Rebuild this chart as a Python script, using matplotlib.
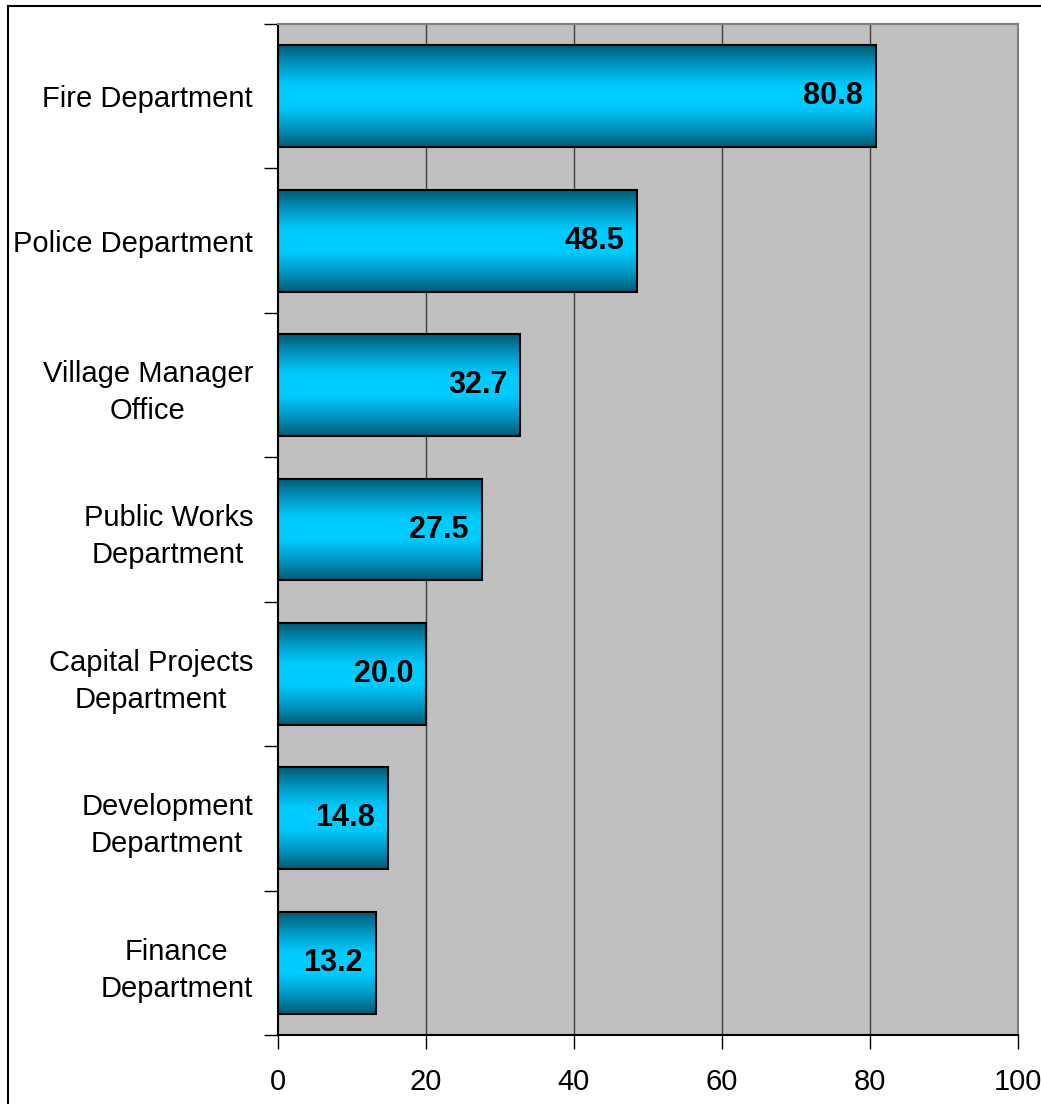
import matplotlib
matplotlib.use("Agg")
import matplotlib.pyplot as plt
import numpy as np
from matplotlib.colors import LinearSegmentedColormap
from matplotlib.lines import Line2D

categories = ["Fire Department", "Police Department", "Village Manager\nOffice",
              "Public Works\nDepartment", "Capital Projects\nDepartment",
              "Development\nDepartment", "Finance\nDepartment"]
values = [80.8, 48.5, 32.7, 27.5, 20.0, 14.8, 13.2]
xticks = [0, 20, 40, 60, 80, 100]

plt.rcParams['font.family'] = ['Liberation Sans', 'DejaVu Sans']

fig = plt.figure(figsize=(10.41, 11.04), dpi=100)
ax = fig.add_axes([278/1041, 69/1104, (1018-278)/1041, (1035-24)/1104])
ax.set_facecolor('#c0c0c0')

n = len(categories)
ypos = np.arange(n)[::-1]
h = 0.705
cmap = LinearSegmentedColormap.from_list('bar', ['#005a74', '#0099c4', '#00ccff', '#00ccff', '#0099c4', '#005a74'])
grad = np.linspace(0, 1, 256).reshape(-1, 1)

ax.set_xlim(0, 100)
ax.set_ylim(-0.5, n - 0.5)
for x in xticks[1:-1]:
    ax.axvline(x, color='#404040', lw=1.0, zorder=1)

bars = ax.barh(ypos, values, height=h, color='none', edgecolor='black', lw=1.5, zorder=3)
for b, v, y in zip(bars, values, ypos):
    im = ax.imshow(grad, cmap=cmap, aspect='auto', extent=[0, v, y - h/2, y + h/2],
                   zorder=2, interpolation='bicubic')
    ax.text(v - 1.7, y, f"{v:.1f}", ha='right', va='center', fontsize=22,
            fontweight='bold', zorder=4)
ax.set_xlim(0, 100)
ax.set_ylim(-0.5, n - 0.5)

ax.set_yticks(ypos)
ax.set_yticklabels(categories, fontsize=21, linespacing=1.4, multialignment='center')
ax.set_yticks(np.arange(-0.5, n, 1), minor=True)
ax.tick_params(axis='y', which='major', length=0, pad=18)
ax.tick_params(axis='y', which='minor', length=10, width=1, color='black')
ax.set_xticks(xticks)
ax.set_xticklabels([str(t) for t in xticks], fontsize=21)
ax.tick_params(axis='x', length=10, width=1, pad=14)

for s in ['top', 'right']:
    ax.spines[s].set_color('#808080')
    ax.spines[s].set_linewidth(1.5)
for s in ['left', 'bottom']:
    ax.spines[s].set_color('black')
    ax.spines[s].set_linewidth(1.5)

fig.add_artist(Line2D([7.5/1041, 7.5/1041], [0, 1 - 6/1104], transform=fig.transFigure, color='black', lw=1.5))
fig.add_artist(Line2D([7.5/1041, 1], [1 - 6/1104, 1 - 6/1104], transform=fig.transFigure, color='black', lw=1.5))

fig.savefig("out.png", dpi=100)
